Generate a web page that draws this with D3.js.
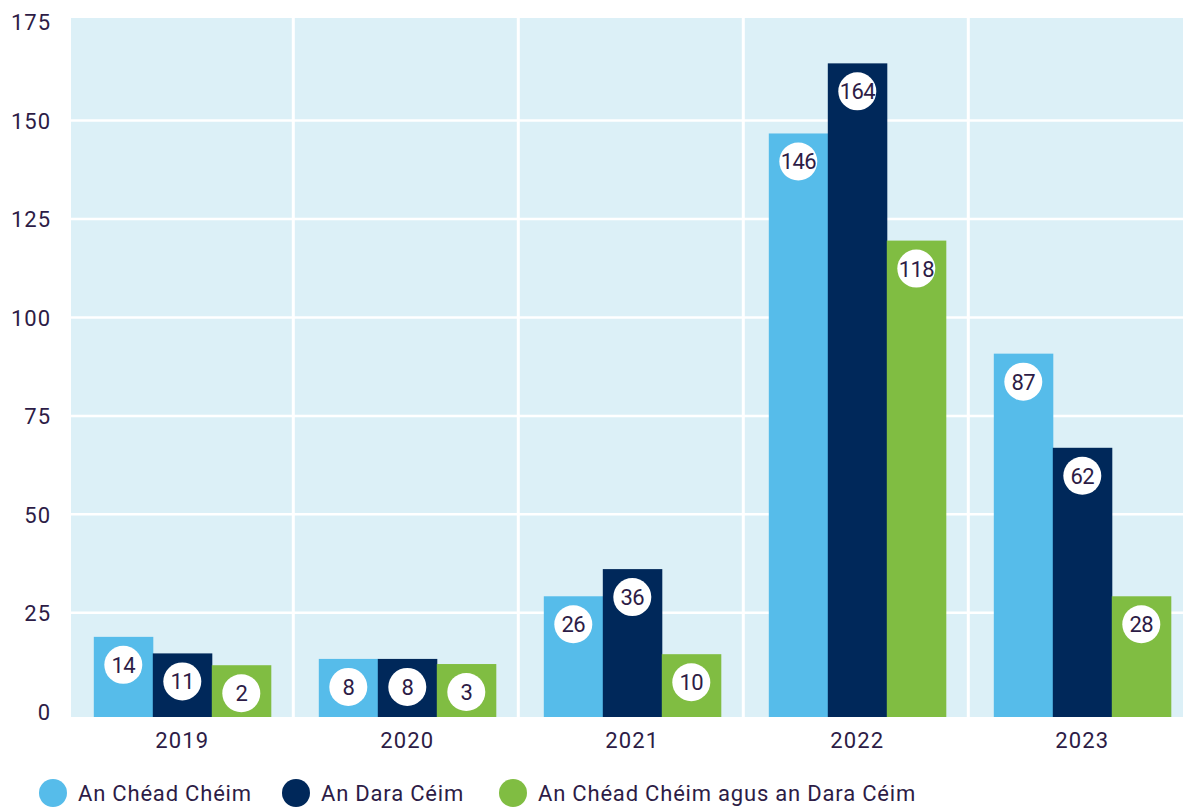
<!DOCTYPE html>
<html>
<head>
<meta charset="utf-8">
<script src="https://cdn.jsdelivr.net/npm/d3@7"></script>
<style>
  html, body { margin: 0; padding: 0; background: #fff; }
  svg { display: block; font-family: Roboto, "DejaVu Sans", sans-serif; }
</style>
</head>
<body>
<svg id="chart" width="1183" height="809"></svg>
<script>
// ---- data ----
const years = ["2019", "2020", "2021", "2022", "2023"];
const seriesNames = ["An Chéad Chéim", "An Dara Céim", "An Chéad Chéim agus an Dara Céim"];
// printed values (labels)
const cheadValues = [14, 8, 26, 146, 87];
const daraValues = [11, 8, 36, 164, 62];
const bothValues = [2, 3, 10, 118, 28];
// bar heights as drawn in the picture (axis units)
const cheadBars = [18.9, 13.3, 29.2, 146.7, 90.8];
const daraBars = [14.7, 13.3, 36.1, 164.5, 66.9];
const bothBars = [11.7, 12.0, 14.5, 119.5, 29.2];
const yTicks = [0, 25, 50, 75, 100, 125, 150, 175];

const colors = ["#56bcea", "#00285a", "#80bd42"];
const textColor = "#2d1c46";
const bgColor = "#dcf0f7";

const svg = d3.select("#chart");

const y = d3.scaleLinear().domain([0, 175]).range([711.3, 22]);
const x = d3.scaleBand().domain(years).range([68.3, 1193.3]).padding(0);
const xs = d3.scaleBand().domain(seriesNames).range([0, 177]).padding(0);
const groupOffset = 25.5;

const plotLeft = 71, plotRight = 1183, plotTop = 18, plotBottom = 717;

// background
svg.append("rect")
  .attr("x", plotLeft).attr("y", plotTop)
  .attr("width", plotRight - plotLeft).attr("height", plotBottom - plotTop)
  .attr("fill", bgColor);

// horizontal gridlines
svg.append("g").selectAll("line")
  .data(yTicks.filter(t => t > 0 && t < 175))
  .join("line")
  .attr("x1", plotLeft).attr("x2", plotRight)
  .attr("y1", d => y(d)).attr("y2", d => y(d))
  .attr("stroke", "#fff").attr("stroke-width", 2.5);

// vertical separators
svg.append("g").selectAll("line")
  .data(years.slice(1))
  .join("line")
  .attr("x1", d => x(d)).attr("x2", d => x(d))
  .attr("y1", plotTop).attr("y2", plotBottom)
  .attr("stroke", "#fff").attr("stroke-width", 3);

// y axis labels
const yAxis = d3.axisLeft(y).tickValues(yTicks).tickSize(0).tickPadding(0);
const yg = svg.append("g").attr("transform", "translate(51,0)").call(yAxis);
yg.select(".domain").remove();
yg.selectAll("text")
  .attr("fill", textColor)
  .attr("font-size", 22)
  .attr("letter-spacing", 1)
  .attr("dy", "0.35em")
  .attr("font-family", "Roboto, 'DejaVu Sans', sans-serif");

// x axis labels
const xAxis = d3.axisBottom(x).tickSize(0).tickPadding(0);
const xg = svg.append("g").attr("transform", "translate(1.5,732)").call(xAxis);
xg.select(".domain").remove();
xg.selectAll("text")
  .attr("fill", textColor)
  .attr("font-size", 22)
  .attr("letter-spacing", 1.2)
  .attr("font-family", "Roboto, 'DejaVu Sans', sans-serif");

// bars
const rows = [];
const barSets = [cheadBars, daraBars, bothBars];
const valSets = [cheadValues, daraValues, bothValues];
years.forEach((yr, i) => {
  seriesNames.forEach((s, j) => {
    rows.push({ year: yr, series: s, idx: j, bar: barSets[j][i], value: valSets[j][i] });
  });
});

svg.append("g").selectAll("rect")
  .data(rows)
  .join("rect")
  .attr("x", d => x(d.year) + groupOffset + xs(d.series))
  .attr("y", d => y(d.bar))
  .attr("width", xs.bandwidth() + 0.5)
  .attr("height", d => plotBottom - y(d.bar))
  .attr("fill", d => colors[d.idx]);

// value labels
const lg = svg.append("g");
lg.selectAll("circle")
  .data(rows)
  .join("circle")
  .attr("cx", d => x(d.year) + groupOffset + xs(d.series) + xs.bandwidth() / 2)
  .attr("cy", d => y(d.bar) + 28)
  .attr("r", 19)
  .attr("fill", "#fff");
lg.selectAll("text")
  .data(rows)
  .join("text")
  .attr("x", d => x(d.year) + groupOffset + xs(d.series) + xs.bandwidth() / 2)
  .attr("y", d => y(d.bar) + 28)
  .attr("dy", "0.36em")
  .attr("text-anchor", "middle")
  .attr("font-size", 22)
  .attr("letter-spacing", -0.6)
  .attr("fill", textColor)
  .text(d => d.value);

// legend
const legendX = [53, 296, 513];
const leg = svg.append("g").selectAll("g")
  .data(seriesNames)
  .join("g")
  .attr("transform", (d, i) => `translate(${legendX[i]},793)`);
leg.append("circle").attr("r", 14).attr("fill", (d, i) => colors[i]);
leg.append("text")
  .attr("x", 25)
  .attr("dy", "0.36em")
  .attr("font-size", 22)
  .attr("letter-spacing", 0.8)
  .attr("fill", textColor)
  .text(d => d);
</script>
</body>
</html>
